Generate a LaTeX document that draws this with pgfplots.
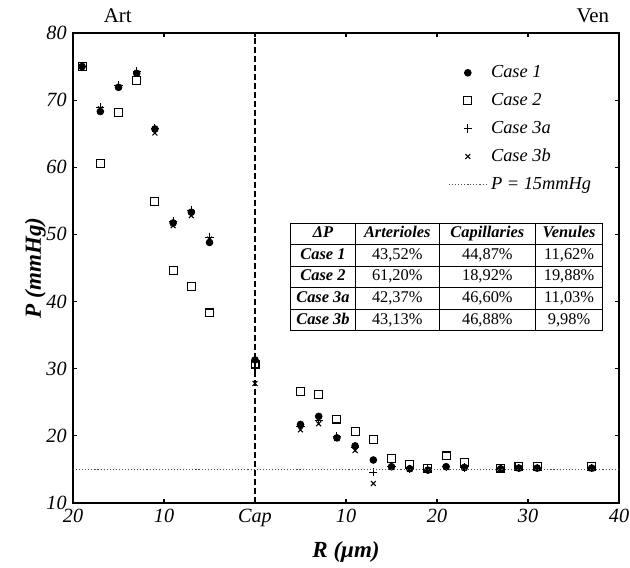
\documentclass[border=0pt]{standalone}
\usepackage{fontspec}
\setmainfont{Liberation Serif}
\usepackage{array}
\usepackage{pgfplots}
\pgfplotsset{compat=1.18}

\newcolumntype{C}[1]{>{\centering\arraybackslash}p{#1}}

\begin{document}
\begin{tikzpicture}
\begin{axis}[
  at={(0,0)}, anchor=south west,
  width=303.3pt, height=261.1pt, scale only axis,
  clip mode=individual,
  xmin=-20, xmax=40, ymin=10, ymax=80,
  xtick={-20,-10,0,10,20,30,40},
  xticklabels={20,10,Cap,10,20,30,40},
  ytick={10,20,...,80},
  tick align=inside,
  major tick length=2.2pt,
  axis line style={line width=0.7pt},
  tick style={line width=0.6pt, black},
  ticklabel style={font=\fontsize{11.2}{13}\selectfont\itshape},
  /pgf/number format/assume math mode=true,
  xlabel={\textbf{\textit{R (μm)}}},
  ylabel={\textbf{\textit{P (mmHg)}}},
  label style={font=\fontsize{12.8}{15}\selectfont},
  xlabel style={at={(axis description cs:0.5,-0.105)}, anchor=center},
  ylabel style={at={(axis description cs:-0.069,0.5)}, anchor=center},
  legend image code/.code={\draw[mark repeat=2,mark phase=2,#1] plot coordinates {(0cm,0cm) (0.37cm,0cm) (0.74cm,0cm)};},
  legend style={draw=none, fill=none, at={(axis cs:20.6,76.3)}, anchor=north west,
    font=\fontsize{10.2}{12}\selectfont\itshape, row sep=3.2pt},
  legend cell align=left,
]
\addplot[forget plot, line width=0.6pt, dash pattern=on 3.3pt off 1.7pt] coordinates {(0,10) (0,80)};

\addplot[only marks, mark=*, mark size=1.9pt, black] coordinates {
(-19,75.0) (-17,68.3) (-15,71.9) (-13,74.0) (-11,65.7) (-9,51.7) (-7,53.3) (-5,48.8) (0,31.3)
(5,21.7) (7,22.9) (9,19.7) (11,18.5) (13,16.4) (15,15.4) (17,15.1) (19,14.9) (21,15.4)
(23,15.3) (27,15.1) (29,15.2) (31,15.2) (37,15.2)};
\addlegendentry{Case 1}

\addplot[only marks, mark=square, mark size=2.2pt, mark options={line width=0.6pt}, black] coordinates {
(-19,75.0) (-17,60.5) (-15,68.1) (-13,72.9) (-11,54.9) (-9,44.6) (-7,42.2) (-5,38.3) (0,30.6)
(5,26.6) (7,26.2) (9,22.5) (11,20.7) (13,19.4) (15,16.6) (17,15.8) (19,15.2) (21,17.0)
(23,16.1) (27,15.2) (29,15.5) (31,15.5) (37,15.5)};
\addlegendentry{Case 2}

\addplot[only marks, mark=+, mark size=2.3pt, mark options={line width=0.6pt}, black] coordinates {
(-19,75.0) (-17,68.9) (-15,72.2) (-13,74.3) (-11,65.8) (-9,51.9) (-7,53.6) (-5,49.6) (0,30.2)
(5,21.4) (7,22.3) (9,19.9) (11,18.2) (13,14.6) (15,15.5) (17,15.1) (19,15.0) (21,15.4)
(23,15.3) (27,15.1) (29,15.2) (31,15.2) (37,15.2)};
\addlegendentry{Case 3a}

\addplot[only marks, mark=x, mark size=1.9pt, mark options={line width=0.6pt}, black] coordinates {
(-19,75.0) (-17,68.7) (-15,71.9) (-13,73.9) (-11,65.1) (-9,51.3) (-7,52.8) (-5,49.3) (0,27.8)
(5,20.9) (7,21.8) (9,19.6) (11,17.8) (13,12.9) (15,15.3) (17,15.0) (19,14.9) (21,15.3)
(23,15.2) (27,15.0) (29,15.1) (31,15.1) (37,15.1)};
\addlegendentry{Case 3b}

\addplot[line width=0.7pt, black!70, dash pattern=on 0.6pt off 1.1pt] coordinates {(-20,15) (40,15)};
\addlegendentry{P = 15mmHg}

\node[anchor=base, font=\fontsize{11.6}{13}\selectfont, yshift=5.6pt] at (rel axis cs:0.082,1) {Art};
\node[anchor=base, font=\fontsize{11.6}{13}\selectfont, yshift=5.6pt] at (rel axis cs:0.952,1) {Ven};

\node[anchor=north west, inner sep=0pt, fill=white, font=\fontsize{9.1}{10.9}\selectfont] at (axis cs:3.85,51.8) {%
\renewcommand{\arraystretch}{1.05}%
\setlength{\tabcolsep}{0pt}%
\setlength{\arrayrulewidth}{0.5pt}%
\begin{tabular}{|C{35.2pt}|C{46.3pt}|C{52.8pt}|C{37pt}|}
\hline
\textbf{\textit{ΔP}} & \textbf{\textit{Arterioles}} & \textbf{\textit{Capillaries}} & \textbf{\textit{Venules}}\\
\hline
\textbf{\textit{Case 1}} & 43,52\% & 44,87\% & 11,62\%\\
\hline
\textbf{\textit{Case 2}} & 61,20\% & 18,92\% & 19,88\%\\
\hline
\textbf{\textit{Case 3a}} & 42,37\% & 46,60\% & 11,03\%\\
\hline
\textbf{\textit{Case 3b}} & 43,13\% & 46,88\% & 9,98\%\\
\hline
\end{tabular}};
\end{axis}
\pgfresetboundingbox
\path (-40.56pt,-36.1pt) rectangle (309.4pt,279.4pt);
\end{tikzpicture}
\end{document}
